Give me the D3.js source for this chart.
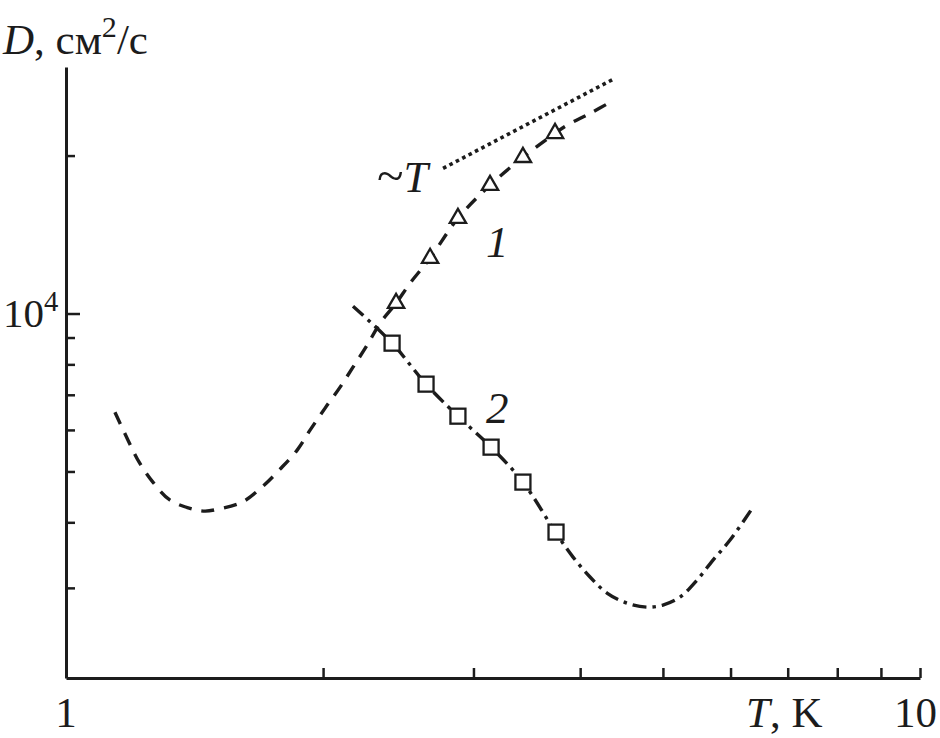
<!DOCTYPE html>
<html><head><meta charset="utf-8">
<script src="https://cdn.jsdelivr.net/npm/d3@7"></script>
<style>body{margin:0;background:#fff}text{font-family:"Liberation Serif","DejaVu Serif",serif;fill:#1c1c1c}</style>
</head><body><svg id="c" width="940" height="738"></svg>
<script>
// ---- data ----
const curve1T = [1.141,1.182,1.218,1.264,1.324,1.408,1.455,1.507,1.608,1.696,1.781,1.865,1.931,2.011,2.094,2.168,2.252,2.332,2.435,2.528,2.669,2.877,3.137,3.428,3.738,3.86,4.108,4.358];
const curve1D = [6486,5736,5209,4772,4409,4238,4201,4238,4371,4668,5051,5491,5994,6603,7240,7901,8700,9583,10460,11420,12750,15190,17560,19850,22050,22840,24070,25380];
const curve2T = [2.168,2.409,2.640,2.877,3.146,3.428,3.748,3.924,4.108,4.300,4.539,4.789,5.0,5.236,5.482,5.723,5.992,6.375];
const curve2D = [10325,8780,7335,6373,5563,4772,3815,3434,3146,2933,2806,2757,2782,2881,3105,3389,3700,4276];
const tri1T = [2.435,2.669,2.877,3.137,3.428,3.738];
const tri1D = [10460,12750,15190,17560,19850,22050];
const sq2T = [2.409,2.640,2.877,3.146,3.428,3.748];
const sq2D = [8780,7335,6373,5563,4772,3832];
const lineTT = [2.764,4.394];
const lineTD = [18910,28070];
const xTicks = [2,3,4,5,6,7,8,9,10];
const yMinorTicks = [3000,4000,5000,6000,7000,8000,9000,20000];
const yMajorTicks = [10000];

const svg = d3.select("#c");
const ink = "#1c1c1c";
const x = d3.scaleLog().domain([1,10]).range([66,920]);
const y = d3.scaleLog().domain([2020,29500]).range([678,67]);

// axes
const gx = svg.append("g").attr("transform","translate(0,678)")
  .call(d3.axisBottom(x).tickValues(xTicks).tickSizeInner(-10).tickSizeOuter(0).tickFormat(""));
const gy = svg.append("g").attr("transform","translate(66,0)")
  .call(d3.axisLeft(y).tickValues(yMinorTicks).tickSizeInner(-9).tickSizeOuter(0).tickFormat(""));
const gy2 = svg.append("g").attr("transform","translate(66,0)")
  .call(d3.axisLeft(y).tickValues(yMajorTicks).tickSizeInner(-14).tickSizeOuter(0).tickFormat(""));
gy2.select(".domain").remove();
[gx,gy,gy2].forEach(g=>{
  g.selectAll(".domain").attr("stroke",ink).attr("stroke-width",3);
  g.selectAll(".tick line").attr("stroke",ink).attr("stroke-width",2.5);
});

const line = d3.line().x(d=>x(d[0])).y(d=>y(d[1])).curve(d3.curveCatmullRom.alpha(0.5));
const zip = (a,b)=>a.map((v,i)=>[v,b[i]]);

svg.append("path").attr("d",line(zip(curve1T,curve1D))).attr("fill","none")
  .attr("stroke",ink).attr("stroke-width",3.4).attr("stroke-dasharray","13,10");
svg.append("path").attr("d",line(zip(curve2T,curve2D))).attr("fill","none")
  .attr("stroke",ink).attr("stroke-width",3.4).attr("stroke-dasharray","14,6,3.5,6");
svg.append("path").attr("d",d3.line().x(d=>x(d[0])).y(d=>y(d[1]))(zip(lineTT,lineTD))).attr("fill","none")
  .attr("stroke",ink).attr("stroke-width",3.6).attr("stroke-dasharray","3.6,3.6");

// markers
svg.append("g").selectAll("path").data(zip(tri1T,tri1D)).join("path")
  .attr("d",d3.symbol(d3.symbolTriangle,115)())
  .attr("transform",d=>`translate(${x(d[0])},${y(d[1])})`)
  .attr("fill","#fff").attr("stroke",ink).attr("stroke-width",2.3);
svg.append("g").selectAll("rect").data(zip(sq2T,sq2D)).join("rect")
  .attr("x",d=>x(d[0])-7.5).attr("y",d=>y(d[1])-7.5).attr("width",15).attr("height",15)
  .attr("fill","#fff").attr("stroke",ink).attr("stroke-width",2.3);

// texts
const fs = 43;
const t1 = svg.append("text").attr("x",3).attr("y",54).attr("font-size",fs);
t1.append("tspan").attr("font-style","italic").text("D");
t1.append("tspan").text(", см");
t1.append("tspan").attr("font-size",fs*0.7).attr("dy",-17).text("2");
t1.append("tspan").attr("dy",17).text("/с");

const t2 = svg.append("text").attr("x",3).attr("y",y(10000)+13).attr("font-size",fs-2);
t2.append("tspan").text("10");
t2.append("tspan").attr("font-size",(fs-2)*0.7).attr("dy",-16).text("4");

svg.append("text").attr("x",x(1)).attr("y",727).attr("font-size",fs).attr("text-anchor","middle").text("1");
svg.append("text").attr("x",937).attr("y",727).attr("font-size",fs).attr("text-anchor","end").text("10");
const t3 = svg.append("text").attr("x",746).attr("y",727).attr("font-size",fs);
t3.append("tspan").attr("font-style","italic").text("T");
t3.append("tspan").text(", K");

const t4 = svg.append("text").attr("x",377).attr("y",192).attr("font-size",fs+1);
t4.append("tspan").attr("font-size",fs+6).text("~");
t4.append("tspan").attr("font-style","italic").text("T");

svg.append("text").attr("x",486).attr("y",257).attr("font-size",fs+2).attr("font-style","italic").text("1");
svg.append("text").attr("x",486).attr("y",423).attr("font-size",fs+2).attr("font-style","italic").text("2");
</script></body></html>
